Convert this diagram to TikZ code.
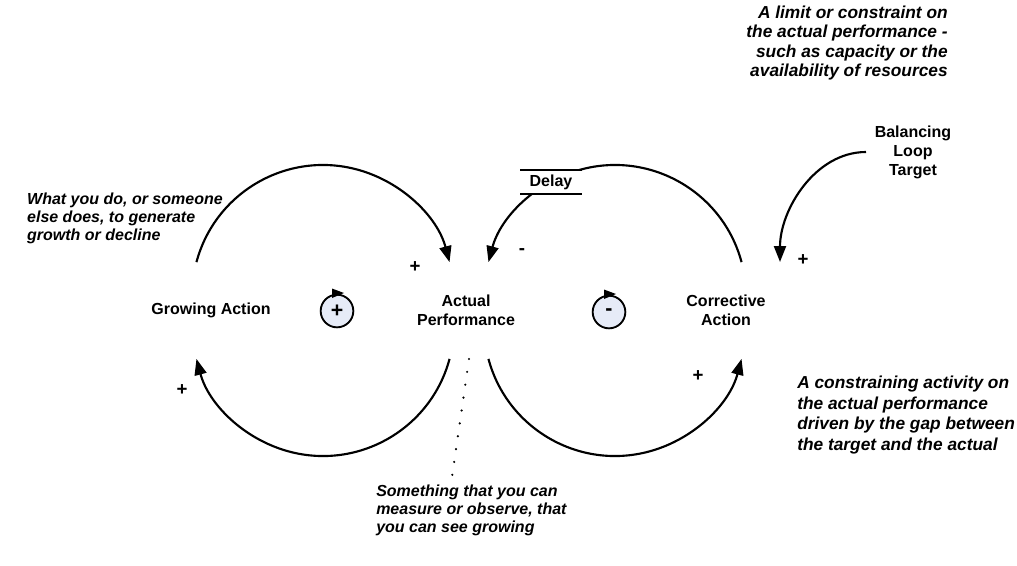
\documentclass[tikz,border=0pt]{standalone}
\usepackage{fontspec}
\setmainfont{Liberation Sans}
\usetikzlibrary{arrows.meta,calc}
\definecolor{loopfill}{RGB}{230,235,247}
\begin{document}
\begin{tikzpicture}[x=0.75pt,y=-0.75pt,
  lbl/.style={font=\fontsize{12}{14.25}\selectfont\bfseries, align=center, inner sep=0pt},
  note/.style={font=\fontsize{12}{13.5}\selectfont\bfseries\itshape, inner sep=0pt},
  rnote/.style={font=\fontsize{13}{14.5}\selectfont\bfseries\itshape, inner sep=0pt},
  rnoteb/.style={font=\fontsize{13}{15.5}\selectfont\bfseries\itshape, inner sep=0pt},
  pol/.style={font=\fontsize{14}{16}\selectfont\bfseries, inner sep=0pt},
  link/.style={line width=1.6pt, -{Triangle[length=12pt,width=9pt]}},
  loopsym/.style={circle, draw, line width=1.4pt, fill=loopfill, minimum size=24.5pt, inner sep=0pt, font=\fontsize{16}{18}\selectfont\bfseries},
  loophead/.style={fill=black},
  delaybox/.style={fill=white, minimum width=45.75pt, minimum height=18pt, inner sep=0pt, font=\fontsize{12}{14}\selectfont\bfseries},
  obs/.style={line width=1.8pt, line cap=round, dash pattern=on 0pt off 9.75pt},
]
\useasboundingbox (0,0) rectangle (1017,565);

% variables
\node[lbl] (ga) at (211,310) {Growing Action};
\node[lbl] (ap) at (466,310) {Actual\\Performance};
\node[lbl] (ca) at (726,310) {Corrective\\Action};
\node[lbl] (bt) at (913,152) {Balancing\\Loop\\Target};

% loop symbols
\node[loopsym] (rl) at (337,311) {+};
\node[loopsym] (bl) at (609,312) {\raisebox{-1.5pt}{-}};
\fill[loophead] ($(rl.center)+(-5,-22.5)$) -- ($(rl.center)+(7,-18)$) -- ($(rl.center)+(-5,-13)$) -- cycle;
\fill[loophead] ($(bl.center)+(-5,-22.5)$) -- ($(bl.center)+(7,-18)$) -- ($(bl.center)+(-5,-13)$) -- cycle;

% arc centres
\coordinate (c1) at (323,296);
\coordinate (c2) at (323,325);
\coordinate (c3) at (615,325);
\coordinate (c4) at (615,296);

% Growing Action -> Actual Performance
\draw[link] (c1) ++(195:131) arc[start angle=195, end angle=345, radius=131];
% Actual Performance -> Growing Action
\draw[link] (c2) ++(15:131) arc[start angle=15, end angle=165, radius=131];
% Actual Performance -> Corrective Action
\draw[link] (c3) ++(165:131) arc[start angle=165, end angle=15, radius=131];
% Corrective Action -> Actual Performance (delayed)
\draw[link] (c4) ++(-15:131) arc[start angle=-15, end angle=-165, radius=131];

% delay
\node[delaybox] (dl) at (551,182) {Delay};
\draw[line width=1.5pt] (dl.north west) -- (dl.north east);
\draw[line width=1.5pt] (dl.south west) -- (dl.south east);

% target -> corrective action
\coordinate (bts) at (866,152);
\coordinate (cat) at (780,262);
\draw[link] (bts) .. controls (815,152) and (780,210) .. (cat);

% polarities
\node[pol] (p1) at (415,267) {+};
\node[pol] (p2) at (522,252) {-};
\node[pol] (p3) at (182,390) {+};
\node[pol] (p4) at (698,376) {+};
\node[pol] (p5) at (803,260) {+};

% observation dotted line
\coordinate (o1) at (469,359);
\coordinate (o2) at (452,477);
\draw[obs] (o1) -- (o2);

% notes
\node[note, anchor=north east, align=left] (n1) at (223,193) {What you do, or someone\\else does, to generate\\growth or decline};
\node[rnote, anchor=east, align=right] (n2) at (948,43) {A limit or constraint on\\the actual performance -\\such as capacity or the\\availability of resources};
\node[rnoteb, anchor=west, align=left] (n3) at (797,415) {A constraining activity on\\the actual performance\\driven by the gap between\\the target and the actual};
\node[note, anchor=north west, align=left] (n4) at (376,485) {Something that you can\\measure or observe, that\\you can see growing};
\end{tikzpicture}
\end{document}
